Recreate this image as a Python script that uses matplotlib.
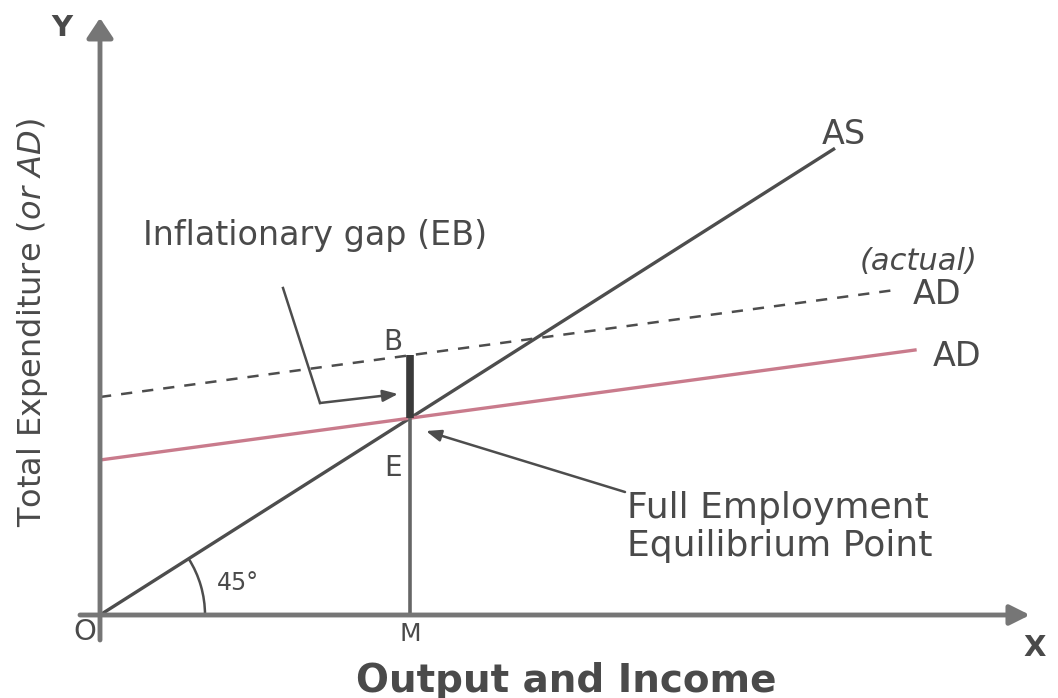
import numpy as np
import matplotlib
matplotlib.use("Agg")
import matplotlib.pyplot as plt
from matplotlib.patches import Arc

plt.rcParams.update({
    "font.family": ["DejaVu Sans"],
    "mathtext.fontset": "dejavusans",
})

# diagram units: origin O at (0, 0)
as_x = [0, 735]
as_slope = 0.635
ad_x = [0, 815]
ad_y = [155, 265]
ad_actual_x = [0, 795]
ad_actual_y = [218, 325]
m_output = 310

TXT = "#4a4a4a"
LINE = "#4d4d4d"
AXIS = "#767676"
PINK = "#c97b8c"

fig = plt.figure(figsize=(10.58, 6.98), dpi=100)
ax = fig.add_axes([0, 0, 1, 1])
ax.set_xlim(-100, 958)
ax.set_ylim(-83, 615)
ax.axis("off")

# axes with arrow heads
ax.annotate("", xy=(0, 597), xytext=(0, -25),
            arrowprops=dict(arrowstyle="-|>,head_length=1.2,head_width=0.8",
                            color=AXIS, lw=3.5, shrinkA=0, shrinkB=0))
ax.annotate("", xy=(930, 0), xytext=(-20, 0),
            arrowprops=dict(arrowstyle="-|>,head_length=1.2,head_width=0.6",
                            color=AXIS, lw=3.5, shrinkA=0, shrinkB=0))

# aggregate supply (45 degree line) and aggregate demand curves
as_y = [as_slope * x for x in as_x]
ax.plot(as_x, as_y, color=LINE, lw=2.4, solid_capstyle="butt")
ax.plot(ad_x, ad_y, color=PINK, lw=2.4)
ax.plot(ad_actual_x, ad_actual_y, color=LINE, lw=1.8, ls=(0, (4.5, 4)))

# full employment output and the inflationary gap E-B
e_y = np.interp(m_output, ad_x, ad_y)
b_y = np.interp(m_output, ad_actual_x, ad_actual_y)
ax.plot([m_output, m_output], [0, e_y], color="#666666", lw=2.6)
ax.plot([m_output, m_output], [e_y, b_y], color="#3a3a3a", lw=5.5, solid_capstyle="butt")

# 45 degree angle marker
theta = np.degrees(np.arctan(as_slope))
ax.add_patch(Arc((0, 0), 210, 210, theta1=0, theta2=theta, color=LINE, lw=1.8))
ax.text(117, 32, "45°", fontsize=17, color=TXT, ha="left", va="center")

# axis labels
ax.text(-38, 587, "Y", fontsize=21, fontweight="bold", color=TXT, ha="center", va="center")
ax.text(935, -33, "X", fontsize=21, fontweight="bold", color=TXT, ha="center", va="center")
ax.text(-15, -17, "O", fontsize=21, color=TXT, ha="center", va="center")
ax.text(m_output, -19, "M", fontsize=18, color=TXT, ha="center", va="center")
ax.text(466, -66, "Output and Income", fontsize=28, fontweight="bold",
        color=TXT, ha="center", va="center")
ax.text(-67, 292, r"Total Expenditure ($\it{or\ AD}$)", fontsize=23, color=TXT,
        rotation=90, ha="center", va="center")

# curve labels
ax.text(722, 481, "AS", fontsize=24, color=TXT, ha="left", va="center")
ax.text(760, 354, "(actual)", fontsize=22, style="italic", color=TXT, ha="left", va="center")
ax.text(813, 320, "AD", fontsize=24, color=TXT, ha="left", va="center")
ax.text(833, 258, "AD", fontsize=24, color=TXT, ha="left", va="center")
ax.text(m_output - 17, 273, "B", fontsize=20, color=TXT, ha="center", va="center")
ax.text(m_output - 17, 147, "E", fontsize=20, color=TXT, ha="center", va="center")

# inflationary gap callout with bent arrow
ax.text(43, 380, "Inflationary gap (EB)", fontsize=24, color=TXT, ha="left", va="center")
ax.plot([183, 220], [327, 212], color=LINE, lw=1.8)
ax.annotate("", xy=(298, 221), xytext=(220, 212),
            arrowprops=dict(arrowstyle="-|>,head_length=0.9,head_width=0.35",
                            color=LINE, lw=1.8, shrinkA=0, shrinkB=0))

# full employment equilibrium callout
ax.annotate("", xy=(326, 184), xytext=(525, 123),
            arrowprops=dict(arrowstyle="-|>,head_length=0.9,head_width=0.35",
                            color=LINE, lw=1.8, shrinkA=0, shrinkB=0))
ax.text(527, 88, "Full Employment\nEquilibrium Point", fontsize=26, color=TXT,
        ha="left", va="center", linespacing=1.15)

fig.savefig("out.png", dpi=100)
